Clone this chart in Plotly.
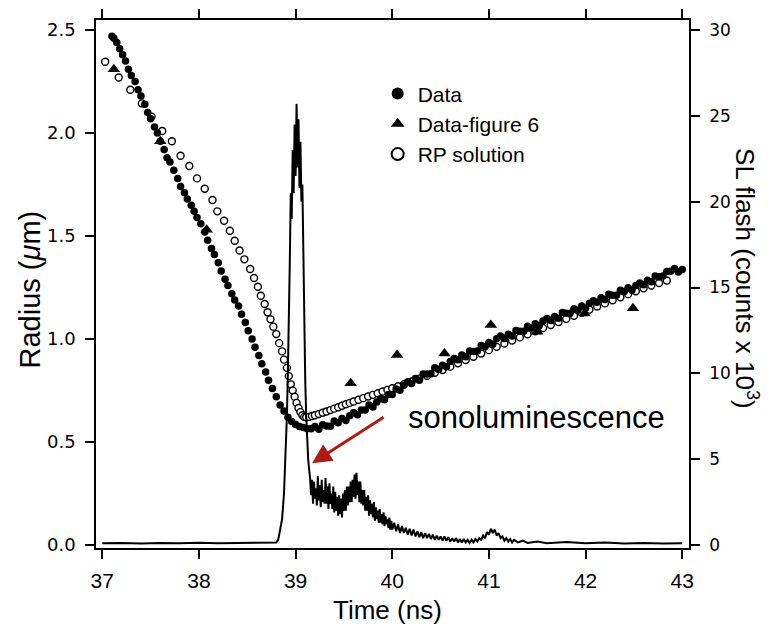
import plotly.graph_objects as go

# ---------------- data ----------------
# Radius data, filled circles (um) vs time (ns)
data_t = [37.10, 37.12, 37.15, 37.18, 37.21, 37.24, 37.27, 37.30, 37.34, 37.37, 37.40, 37.44,
          37.47, 37.50, 37.54, 37.57, 37.60, 37.64, 37.67, 37.70, 37.74, 37.78, 37.81, 37.85,
          37.88, 37.92, 37.95, 37.98, 38.02, 38.06, 38.09, 38.13, 38.16, 38.20, 38.23, 38.27,
          38.30, 38.34, 38.37, 38.41, 38.44, 38.48, 38.51, 38.55, 38.58, 38.62, 38.65, 38.69,
          38.72, 38.76, 38.80, 38.84, 38.88, 38.92, 38.96, 39.00, 39.04, 39.08, 39.12, 39.16,
          39.20, 39.24, 39.28, 39.32, 39.36, 39.40, 39.44, 39.48, 39.52, 39.56, 39.60, 39.64,
          39.68, 39.72, 39.76, 39.80, 39.84, 39.88, 39.92, 39.96, 40.00, 40.04, 40.08, 40.12,
          40.16, 40.20, 40.24, 40.28, 40.32, 40.36, 40.40, 40.44, 40.48, 40.52, 40.56, 40.60,
          40.64, 40.68, 40.72, 40.76, 40.80, 40.84, 40.88, 40.92, 40.96, 41.00, 41.04, 41.08,
          41.12, 41.16, 41.20, 41.24, 41.28, 41.32, 41.36, 41.40, 41.44, 41.48, 41.52, 41.56,
          41.60, 41.64, 41.68, 41.72, 41.76, 41.80, 41.84, 41.88, 41.92, 41.96, 42.00, 42.04,
          42.08, 42.12, 42.16, 42.20, 42.24, 42.28, 42.32, 42.36, 42.40, 42.44, 42.48, 42.52,
          42.56, 42.60, 42.64, 42.68, 42.72, 42.76, 42.80, 42.84, 42.88, 42.92, 42.96, 43.00]
data_r = [2.47, 2.46, 2.44, 2.41, 2.38, 2.35, 2.31, 2.28, 2.25, 2.21, 2.18, 2.14,
          2.10, 2.07, 2.03, 2.00, 1.96, 1.92, 1.88, 1.86, 1.82, 1.78, 1.74, 1.71,
          1.68, 1.65, 1.62, 1.59, 1.56, 1.52, 1.48, 1.44, 1.41, 1.37, 1.33, 1.29,
          1.26, 1.22, 1.19, 1.16, 1.12, 1.08, 1.04, 1.00, 0.96, 0.92, 0.88, 0.84,
          0.80, 0.76, 0.72, 0.68, 0.65, 0.62, 0.60, 0.585, 0.575, 0.57, 0.565, 0.565,
          0.575, 0.562, 0.584, 0.578, 0.576, 0.602, 0.593, 0.614, 0.604, 0.627, 0.642, 0.632,
          0.656, 0.656, 0.680, 0.670, 0.694, 0.710, 0.705, 0.731, 0.731, 0.757, 0.751, 0.776,
          0.792, 0.784, 0.808, 0.800, 0.830, 0.830, 0.832, 0.860, 0.852, 0.873, 0.865, 0.891,
          0.905, 0.899, 0.922, 0.914, 0.942, 0.940, 0.942, 0.969, 0.963, 0.983, 0.975, 1.001,
          1.015, 1.003, 1.023, 1.015, 1.041, 1.038, 1.038, 1.062, 1.054, 1.074, 1.064, 1.088,
          1.100, 1.090, 1.110, 1.101, 1.129, 1.125, 1.125, 1.147, 1.140, 1.160, 1.150, 1.174,
          1.186, 1.178, 1.200, 1.192, 1.218, 1.212, 1.213, 1.237, 1.231, 1.249, 1.237, 1.260,
          1.272, 1.264, 1.286, 1.278, 1.306, 1.302, 1.306, 1.328, 1.329, 1.342, 1.326, 1.337]

# Data-figure 6, filled triangles
fig6_t = [37.12, 37.60, 38.08, 39.57, 40.05, 40.54, 41.02, 41.50, 41.99, 42.49]
fig6_r = [2.31, 1.96, 1.53, 0.785, 0.922, 0.93, 1.068, 1.035, 1.124, 1.149]

# RP solution, open circles
rp_t = [37.03, 37.17, 37.29, 37.41, 37.51, 37.62, 37.72, 37.81, 37.90, 37.98, 38.06, 38.14,
        38.19, 38.26, 38.32, 38.37, 38.42, 38.47, 38.53, 38.57, 38.61, 38.64, 38.68, 38.71,
        38.74, 38.77, 38.80, 38.83, 38.86, 38.88, 38.91, 38.93, 38.95, 38.97, 38.99, 39.01,
        39.03, 39.05, 39.07, 39.09, 39.11, 39.14, 39.17, 39.20, 39.24, 39.28, 39.32, 39.36,
        39.40, 39.44, 39.48, 39.52, 39.56, 39.60, 39.65, 39.70, 39.75, 39.80, 39.85, 39.90,
        39.95, 40.00, 40.06, 40.12, 40.20, 40.28, 40.36, 40.44, 40.52, 40.60, 40.68, 40.76,
        40.84, 40.92, 41.00, 41.08, 41.16, 41.24, 41.32, 41.40, 41.48, 41.56, 41.64, 41.72,
        41.80, 41.88, 41.96, 42.04, 42.12, 42.20, 42.28, 42.36, 42.44, 42.52, 42.60, 42.68,
        42.76, 42.84]
rp_r = [2.346, 2.27, 2.21, 2.144, 2.08, 2.01, 1.96, 1.89, 1.84, 1.78, 1.73, 1.675,
        1.62, 1.574, 1.526, 1.477, 1.43, 1.387, 1.34, 1.296, 1.254, 1.21, 1.17, 1.13,
        1.096, 1.06, 1.024, 0.98, 0.94, 0.90, 0.86, 0.82, 0.78, 0.75, 0.72, 0.69,
        0.665, 0.645, 0.63, 0.622, 0.62, 0.622, 0.626, 0.63, 0.636, 0.642, 0.648, 0.655,
        0.662, 0.669, 0.676, 0.683, 0.69, 0.697, 0.705, 0.713, 0.721, 0.729, 0.737, 0.745,
        0.753, 0.761, 0.771, 0.781, 0.794, 0.808, 0.822, 0.836, 0.85, 0.866, 0.882, 0.898,
        0.914, 0.93, 0.946, 0.962, 0.978, 0.993, 1.008, 1.023, 1.038, 1.053, 1.068, 1.083,
        1.098, 1.113, 1.128, 1.143, 1.158, 1.173, 1.188, 1.203, 1.218, 1.232, 1.246, 1.26,
        1.272, 1.284]

# SL flash (counts x 10^3)
sl_t = [37.00, 37.20, 37.40, 37.60, 37.80, 38.00, 38.20, 38.40, 38.60, 38.80, 38.82, 38.84,
        38.86, 38.88, 38.90, 38.91, 38.92, 38.93, 38.94, 38.95, 38.96, 38.97, 38.98, 38.99,
        39.00, 39.01, 39.02, 39.03, 39.04, 39.05, 39.06, 39.07, 39.08, 39.09, 39.10, 39.11,
        39.12, 39.13, 39.14,
        39.15, 39.16, 39.17, 39.18, 39.19, 39.20, 39.21, 39.22, 39.23, 39.24, 39.25, 39.26,
        39.27, 39.28, 39.29, 39.30, 39.31, 39.32, 39.33, 39.34, 39.35, 39.36, 39.37, 39.38,
        39.39, 39.40, 39.41, 39.42, 39.43, 39.44, 39.45, 39.46, 39.47, 39.48, 39.49, 39.50,
        39.51, 39.52, 39.53, 39.54, 39.55, 39.56, 39.57, 39.58, 39.59, 39.60, 39.61, 39.62,
        39.63, 39.64, 39.65, 39.66, 39.67, 39.68, 39.69, 39.70, 39.71, 39.72, 39.73, 39.74,
        39.75, 39.76, 39.77, 39.78, 39.79, 39.80, 39.81, 39.82, 39.83, 39.84, 39.85, 39.86,
        39.87, 39.88, 39.89, 39.90, 39.91, 39.92, 39.93, 39.94, 39.95, 39.96, 39.97, 39.98,
        39.99,
        40.00, 40.02, 40.04, 40.06, 40.08, 40.10, 40.12, 40.14, 40.16, 40.18, 40.20, 40.22,
        40.24, 40.26, 40.28, 40.30, 40.32, 40.34, 40.36, 40.38, 40.40, 40.42, 40.44, 40.46,
        40.48, 40.50, 40.52, 40.54, 40.56, 40.58, 40.60, 40.62, 40.64, 40.66, 40.68, 40.70,
        40.72, 40.74, 40.76, 40.78, 40.80, 40.82, 40.84, 40.86, 40.88, 40.90, 40.92, 40.94,
        40.96, 40.98, 41.00, 41.02, 41.04, 41.06, 41.08, 41.10, 41.12, 41.14, 41.16, 41.18,
        41.20, 41.22, 41.24, 41.26, 41.30, 41.35, 41.40, 41.50, 41.60, 41.80, 42.00, 42.20,
        42.40, 42.60, 42.80, 43.00]
sl_c = [0.10, 0.12, 0.08, 0.12, 0.10, 0.13, 0.10, 0.12, 0.10, 0.15, 0.30, 0.80,
        1.5, 3.0, 5.5, 7.5, 10.0, 12.5, 16.5, 20.5, 19.0, 23.0, 20.5, 24.5,
        21.5, 25.7, 22.0, 24.8, 20.8, 23.5, 20.0, 21.0, 16.0, 12.5, 9.5, 7.5,
        6.0, 5.0, 4.4,
        3.9, 2.9, 3.8, 2.4, 3.7, 2.7, 3.3, 2.3, 4.0, 2.6, 3.5, 2.2,
        3.8, 2.5, 3.2, 2.4, 3.9, 2.4, 3.4, 2.1, 3.6, 2.4, 3.0, 2.1,
        3.4, 1.9, 3.1, 2.0, 2.8, 1.7, 2.9, 1.8, 2.7, 1.6, 3.0, 2.0,
        3.2, 2.0, 3.4, 2.3, 3.4, 2.5, 3.7, 2.5, 3.8, 2.8, 4.1, 2.7,
        4.2, 2.9, 3.7, 2.5, 3.7, 2.4, 3.2, 2.3, 3.2, 2.0, 2.8, 2.0,
        2.9, 1.7, 2.6, 1.8, 2.4, 1.6, 2.5, 1.4, 2.2, 1.5, 2.0, 1.3,
        2.1, 1.3, 1.8, 1.2, 1.9, 1.1, 1.7, 1.2, 1.5, 1.0, 1.6, 0.9,
        1.4,
        0.9, 1.3, 0.8, 1.2, 0.7, 1.1, 0.7, 1.0, 0.6, 0.95, 0.55, 0.9,
        0.5, 0.8, 0.45, 0.75, 0.4, 0.7, 0.4, 0.65, 0.35, 0.6, 0.3, 0.55,
        0.3, 0.5, 0.25, 0.5, 0.25, 0.45, 0.2, 0.4, 0.2, 0.4, 0.15, 0.35,
        0.15, 0.35, 0.15, 0.3, 0.12, 0.3, 0.15, 0.35, 0.2, 0.4, 0.3, 0.55,
        0.4, 0.75, 0.6, 0.95, 0.7, 0.9, 0.55, 0.7, 0.4, 0.5, 0.25, 0.4,
        0.2, 0.35, 0.15, 0.3, 0.15, 0.25, 0.12, 0.2, 0.1, 0.18, 0.1, 0.15,
        0.08, 0.12, 0.08, 0.10]

x_ticks = [37, 38, 39, 40, 41, 42, 43]
r_ticks = [0.0, 0.5, 1.0, 1.5, 2.0, 2.5]
sl_ticks = [0, 5, 10, 15, 20, 25, 30]

# ---------------- figure ----------------
FONT = "Liberation Sans, Arial, sans-serif"
TICKFONT = "DejaVu Sans, Verdana, sans-serif"

fig = go.Figure()

fig.add_trace(go.Scatter(x=sl_t, y=sl_c, yaxis="y2", mode="lines",
                         line=dict(color="black", width=2), showlegend=False,
                         hoverinfo="skip"))

fig.add_trace(go.Scatter(x=rp_t, y=rp_r, mode="markers", name="RP solution",
                         legendrank=3, legendgroup="c",
                         marker=dict(symbol="circle", size=7, color="white",
                                     line=dict(color="black", width=1.4))))

fig.add_trace(go.Scatter(x=data_t, y=data_r, mode="markers", name="Data",
                         legendrank=1, legendgroup="a",
                         marker=dict(symbol="circle", size=7.5, color="black")))

fig.add_trace(go.Scatter(x=fig6_t, y=fig6_r, mode="markers", name="Data-figure 6",
                         legendrank=2, legendgroup="b",
                         marker=dict(symbol="triangle-up", size=11, color="black")))

x0, x1 = 36.935, 43.07
y0, y1 = -0.0146, 2.549

# the page body adds an 8 px offset, so the figure is 8 px smaller than the window
fig.update_layout(
    width=762, height=623,
    margin=dict(l=88, r=81, t=12, b=83, autoexpand=False),
    paper_bgcolor="white", plot_bgcolor="white",
    font=dict(family=FONT, color="black"),
    xaxis=dict(range=[x0, x1], tickvals=x_ticks, ticktext=[str(v) for v in x_ticks],
               showgrid=False, zeroline=False, showline=True, linecolor="black",
               linewidth=1.5, mirror="ticks", ticks="outside", ticklen=9, tickwidth=1.5,
               tickcolor="black", tickfont=dict(family=FONT, size=21),
               ticklabelstandoff=4, automargin=False),
    yaxis=dict(range=[y0, y1], tickvals=r_ticks, ticktext=["%.1f" % v for v in r_ticks],
               showgrid=False, zeroline=False, showline=True, linecolor="black",
               linewidth=1.5, ticks="outside", ticklen=9, tickwidth=1.5, tickcolor="black",
               tickfont=dict(family=TICKFONT, size=18), ticklabelstandoff=6,
               automargin=False),
    yaxis2=dict(range=[y0 * 12, y1 * 12], tickvals=sl_ticks,
                ticktext=[str(v) for v in sl_ticks], overlaying="y", side="right",
                showgrid=False, zeroline=False, showline=True, linecolor="black",
                linewidth=1.5, ticks="outside", ticklen=9, tickwidth=1.5, tickcolor="black",
                tickfont=dict(family=TICKFONT, size=17), ticklabelstandoff=6,
                automargin=False),
    legend=dict(x=0.475, y=0.899, xanchor="left", yanchor="top",
                bgcolor="rgba(0,0,0,0)", font=dict(family=FONT, size=21),
                itemsizing="constant", tracegroupgap=0, traceorder="grouped"),
    annotations=[
        dict(text="Time (ns)", xref="paper", yref="paper", x=0.4924, y=-0.117,
             xanchor="center", yanchor="middle", showarrow=False,
             font=dict(family=FONT, size=26)),
        dict(text="Radius (<i>\u03bc</i>m)", xref="paper", yref="paper", x=-0.111, y=0.49,
             xanchor="center", yanchor="middle", textangle=-90, showarrow=False,
             font=dict(family=FONT, size=29)),
        dict(text="SL flash (counts x 10<sup>3</sup>)", xref="paper", yref="paper",
             x=1.098, y=0.511, xanchor="center", yanchor="middle", textangle=90,
             showarrow=False, font=dict(family=FONT, size=26)),
        dict(text="sonoluminescence", xref="x", yref="y", x=40.14, y=0.621,
             xanchor="left", yanchor="middle", showarrow=False,
             font=dict(family=FONT, size=31)),
        dict(text="", xref="x", yref="y", x=39.17, y=0.397, showarrow=True,
             ax=73, ay=-47, arrowhead=2, arrowsize=1.3, arrowwidth=3,
             arrowcolor="#b01a10"),
    ],
)

fig.write_html("out.html")
